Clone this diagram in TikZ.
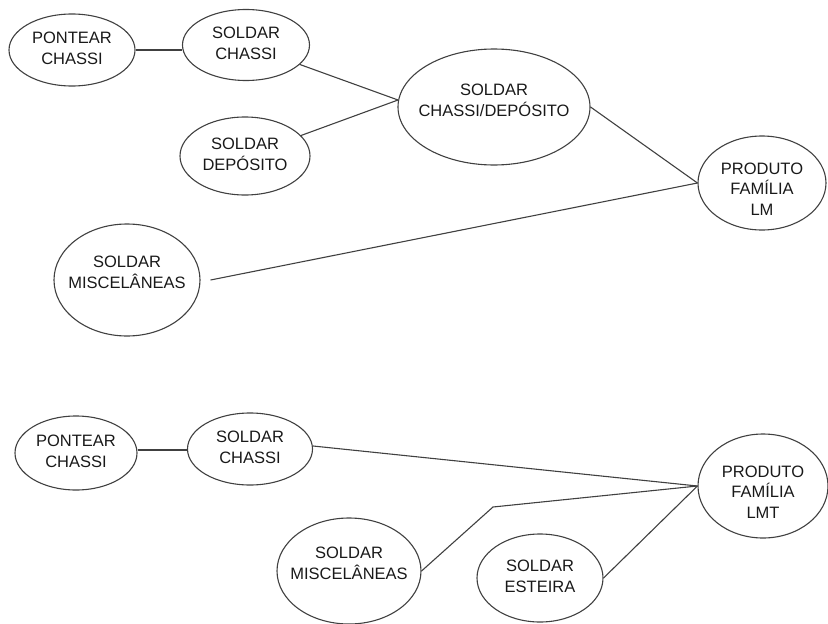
\documentclass[tikz,border=0pt]{standalone}
\usepackage{fontspec}
\setmainfont{Liberation Sans}
\usetikzlibrary{shapes.geometric}
\newcommand{\tx}[2][0pt]{\raisebox{#1}[0pt][0pt]{\makebox[0pt]{\begin{tabular}{@{}c@{}}#2\end{tabular}}}}
\tikzset{
  el/.style n args={2}{draw=black!75, line width=1.1pt, shape=ellipse, inner sep=0pt,
    minimum width=#1pt, minimum height=#2pt, text=black!90},
  conn/.style={draw=black!75, line width=1.1pt}
}
\begin{document}
\begin{tikzpicture}[x=1pt,y=-1pt,font=\fontsize{16.5}{20.5}\selectfont]
\useasboundingbox (0,0) rectangle (828,624);
% top diagram
\node[el={126}{72}] (pc1) at (72,50) {\tx[-4pt]{PONTEAR\\CHASSI}};
\node[el={127}{71}] (sc1) at (246,45) {\tx[-4pt]{SOLDAR\\CHASSI}};
\node[el={130}{78}] (sd1) at (245,156) {\tx[-4pt]{SOLDAR\\DEPÓSITO}};
\node[el={192}{116}] (cd1) at (494,107) {\tx[1pt]{SOLDAR\\CHASSI/DEPÓSITO}};
\node[el={128}{94}] (lm) at (762,183) {\tx[-12pt]{PRODUTO\\FAMÍLIA\\LM}};
\node[el={146}{112}] (mt) at (127,280) {\tx[2pt]{SOLDAR\\MISCELÂNEAS}};
\coordinate (j1) at (398,100);
\draw[conn] (pc1.east) -- (sc1.west |- pc1.east);
\draw[conn] (sc1) -- (j1);
\draw[conn] (sd1) -- (j1);
\draw[conn] (cd1.east) -- (lm.west);
\draw[conn] ([xshift=10pt]mt.east) -- (lm.west);
% bottom diagram
\node[el={122}{74}] (pc2) at (76,453) {\tx[-4pt]{PONTEAR\\CHASSI}};
\node[el={125}{72}] (sc2) at (250,449) {\tx[-4pt]{SOLDAR\\CHASSI}};
\node[el={130}{104}] (lmt) at (763,486) {\tx[-12pt]{PRODUTO\\FAMÍLIA\\LMT}};
\node[el={144}{106}] (m2) at (349,571) {\tx[2pt]{SOLDAR\\MISCELÂNEAS}};
\node[el={126}{88}] (es) at (540,578) {\tx[-4pt]{SOLDAR\\ESTEIRA}};
\coordinate (b1) at (493,507);
\draw[conn] (pc2.east |- 0,450) -- (sc2.west |- 0,450);
\draw[conn] ([yshift=3pt]sc2.east) -- (lmt.west);
\draw[conn] (m2.east) -- (b1) -- (lmt.west);
\draw[conn] (es.east) -- (lmt.west);
\end{tikzpicture}
\end{document}
